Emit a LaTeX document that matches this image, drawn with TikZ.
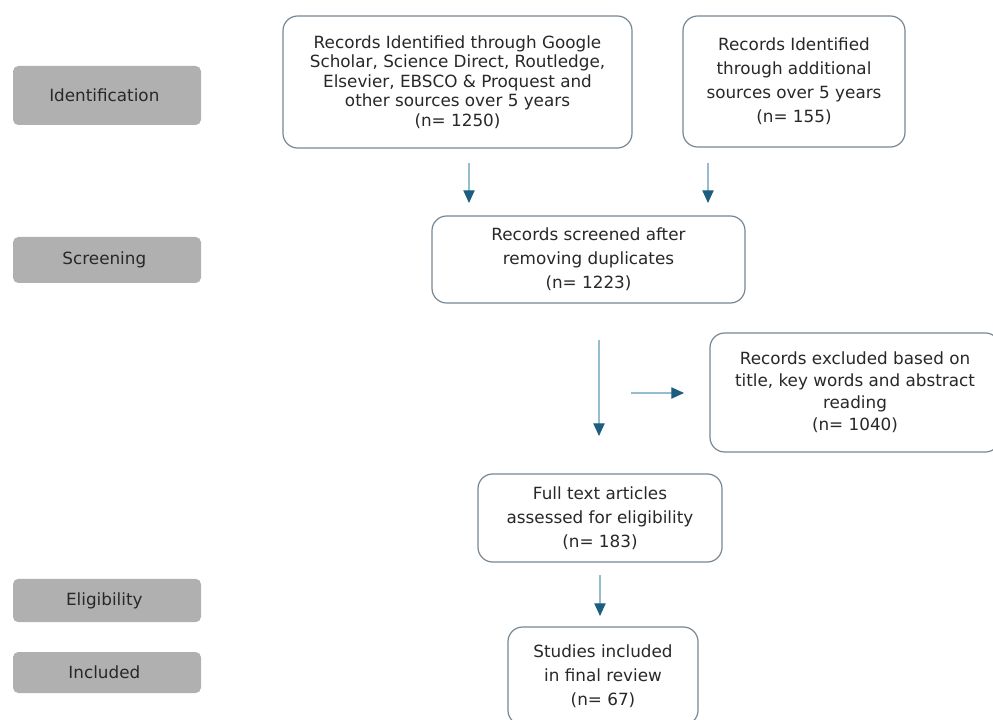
\documentclass[tikz,border=0pt]{standalone}
\usepackage{fontspec}
\setmainfont{DejaVu Sans}
\usepackage{xcolor}
\definecolor{BoxLine}{RGB}{118,134,146}
\definecolor{StageGray}{RGB}{176,176,176}
\definecolor{LabelText}{RGB}{40,40,40}
\definecolor{ArrowLine}{RGB}{150,188,208}
\definecolor{ArrowHead}{RGB}{28,94,128}
\usepackage{tikz}
\usetikzlibrary{
    arrows.meta,
    positioning
}

\tikzset{
    recordbox/.style={
        draw=BoxLine,
        line width=0.9pt,
        rounded corners=11pt,
        fill=white,
        align=center,
        text=LabelText,
        font=\fontsize{12.6}{18}\selectfont,
        inner sep=0pt
    },
    stagebox/.style={
        fill=StageGray,
        rounded corners=4pt,
        minimum width=141pt,
        align=center,
        text=LabelText,
        font=\fontsize{12.6}{14}\selectfont
    },
    flow/.style={
        ArrowLine,
        line width=0.8pt,
        -{Triangle[length=9.5pt,width=8.5pt,color=ArrowHead]}
    }
}

\begin{document}
\begin{tikzpicture}[x=0.75pt,y=-0.75pt]
%
    \useasboundingbox
    (0,0)
    rectangle
    (993,720);
%
    % stages of the review on the left
%
    \node[
        stagebox,
        minimum height=44.25pt
    ]
    (identification) at (107,95.5) {
        Identification
    };
%
    \node[
        stagebox,
        minimum height=34.5pt
    ]
    (screening) at (107,260) {
        Screening
    };
%
    \node[
        stagebox,
        minimum height=32.5pt
    ]
    (eligibility) at (107,600.5) {
        Eligibility
    };
%
    \node[
        stagebox,
        minimum height=30.75pt
    ]
    (included) at (107,672.5) {
        Included
    };
%
    % record counts
%
    \node[
        recordbox,
        minimum width=261.75pt,
        minimum height=99pt,
        font=\fontsize{12.6}{14.6}\selectfont
    ]
    (databases) at (457.5,82) {
        Records Identified through Google\\
        Scholar, Science Direct, Routledge,\\
        Elsevier, EBSCO \& Proquest and\\
        other sources over 5 years\\
        (n= 1250)
    };
%
    \node[
        recordbox,
        minimum width=166.5pt,
        minimum height=98.25pt
    ]
    (additional) at (794,81.5) {
        Records Identified\\
        through additional\\
        sources over 5 years\\
        (n= 155)
    };
%
    \node[
        recordbox,
        minimum width=234.75pt,
        minimum height=65.25pt
    ]
    (screened) at (588.5,259.5) {
        Records screened after\\
        removing duplicates\\
        (n= 1223)
    };
%
    \node[
        recordbox,
        minimum width=217.5pt,
        minimum height=89.25pt,
        font=\fontsize{12.6}{16.5}\selectfont
    ]
    (excluded) at (855,392.5) {
        Records excluded based on\\
        title, key words and abstract\\
        reading\\
        (n= 1040)
    };
%
    \node[
        recordbox,
        minimum width=183pt,
        minimum height=66pt
    ]
    (fulltext) at (600,518) {
        Full text articles\\
        assessed for eligibility\\
        (n= 183)
    };
%
    \node[
        recordbox,
        minimum width=142.5pt,
        minimum height=73.5pt
    ]
    (studies) at (603,676) {
        Studies included\\
        in final review\\
        (n= 67)
    };
%
    % arrows stand free of the boxes
%
    \coordinate (dbout) at (469,163);
    \coordinate (dbin) at (469,203);
    \coordinate (addout) at (708,163);
    \coordinate (addin) at (708,203);
    \coordinate (scrout) at (599,340);
    \coordinate (scrin) at (599,436);
    \coordinate (exout) at (631,393);
    \coordinate (exin) at (684,393);
    \coordinate (ftout) at (600,575);
    \coordinate (ftin) at (600,616);
%
    \draw[flow] (dbout) -- (dbin);
    \draw[flow] (addout) -- (addin);
    \draw[flow] (scrout) -- (scrin);
    \draw[flow] (exout) -- (exin);
    \draw[flow] (ftout) -- (ftin);
%
\end{tikzpicture}
\end{document}
